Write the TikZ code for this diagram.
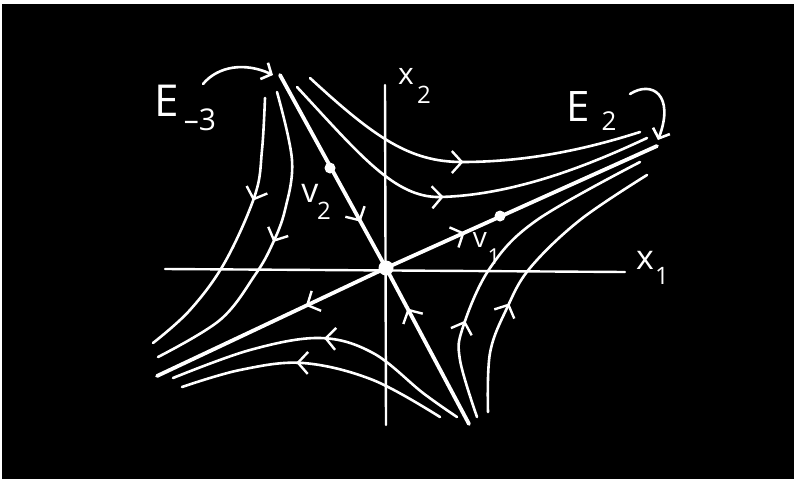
\documentclass[tikz,border=0pt]{standalone}
\usepackage{fontspec}
\setmainfont{Open Sans}
\usetikzlibrary{arrows.meta,decorations.markings}
\begin{document}
\begin{tikzpicture}[x=1pt,y=-1pt,
  flow/.style={white, line width=2.6pt, line cap=round, line join=round},
  eig/.style={white, line width=3.8pt, line cap=round},
  axisline/.style={white, line width=2.4pt, line cap=round},
  mk/.style={postaction={decorate}, decoration={markings, mark=at position #1 with {\arrow[white, line width=2.4pt]{Straight Barb[length=10pt,width=22pt]}}}},
  lbl/.style={white, inner sep=0pt, anchor=center},
  pt/.style={circle, fill=white, inner sep=0pt, minimum size=#1}
]
\useasboundingbox (0,0) rectangle (796,480);
\fill[white] (0,0) rectangle (796,480);
\fill[black] (2,4) rectangle (794,479);

% axes
\coordinate (xL) at (165,269);
\coordinate (xR) at (625,272);
\coordinate (yT) at (385,85);
\coordinate (yB) at (386,425);
\draw[axisline] (xL) -- (xR);
\draw[axisline] (yT) -- (yB);

% origin and eigen points
\node[pt=15pt] (O) at (386,268) {};
\node[pt=11pt] (P2) at (330,168) {};
\node[pt=11pt] (P1) at (500,216) {};
\coordinate (v2T) at (280,75);
\coordinate (v2B) at (469,424);
\coordinate (v1R) at (657,146);
\coordinate (v1L) at (157,376);

% eigen lines
\draw[eig, mk=0.76] (v2T) -- (O.center);
\draw[eig, mk=0.74] (v2B) -- (O.center);
\draw[eig, mk=0.29] (O.center) -- (v1R);
\draw[eig, mk=0.35] (O.center) -- (v1L);

% trajectories upper right
\draw[flow, mk=0.50] (310,78) .. controls (375,138) and (410,162) .. (462,162) .. controls (530,162) and (590,148) .. (640,132);
\draw[flow, mk=0.47] (297,87) .. controls (360,155) and (395,198) .. (440,197) .. controls (520,195) and (600,160) .. (647,138);
% lower right
\draw[flow, mk=0.29] plot[smooth, tension=0.6] coordinates {(477,417) (460,360) (463,327) (490,268) (537,220) (640,162)};
\draw[flow, mk=0.37] plot[smooth, tension=0.6] coordinates {(488,412) (490,353) (507,308) (530,268) (580,220) (647,175)};
% upper left
\draw[flow, mk=0.37] plot[smooth, tension=0.6] coordinates {(265,98) (262,150) (255,195) (225,262) (190,310) (153,343)};
\draw[flow, mk=0.48] plot[smooth, tension=0.6] coordinates {(277,92) (292,160) (285,210) (272,245) (255,275) (220,320) (158,357)};
% bottom
\draw[flow, mk=0.50] plot[smooth, tension=0.6] coordinates {(457,417) (423,393) (373,353) (320,338) (250,350) (173,378)};
\draw[flow, mk=0.57] plot[smooth, tension=0.6] coordinates {(440,417) (373,380) (303,363) (240,370) (182,387)};

% labels
\node[lbl, font=\fontsize{30}{30}\selectfont] (x2a) at (406,76) {x};
\node[lbl, font=\fontsize{24}{24}\selectfont] (x2b) at (424,95) {2};
\node[lbl, font=\fontsize{34}{34}\selectfont] (x1a) at (645,260) {x};
\node[lbl, font=\fontsize{24}{24}\selectfont] (x1b) at (662,276) {1};
\node[lbl, font=\fontsize{44}{44}\selectfont] (Ea) at (167,101) {E};
\node[lbl, font=\fontsize{30}{30}\selectfont] (Eb) at (200,120) {–3};
\node[lbl, font=\fontsize{42}{42}\selectfont] (Fa) at (578,107) {E};
\node[lbl, font=\fontsize{26}{26}\selectfont] (Fb) at (609,121) {2};
\node[lbl, font=\fontsize{34}{34}\selectfont] (v2a) at (310,193) {v};
\node[lbl, font=\fontsize{24}{24}\selectfont] (v2b) at (324,211) {2};
\node[lbl, font=\fontsize{28}{28}\selectfont] (v1a) at (480,240) {v};
\node[lbl, font=\fontsize{22}{22}\selectfont] (v1b) at (494,257) {1};

% pointer arrows
\coordinate (e3s) at (203,84);
\coordinate (e3t) at (273,75);
\draw[flow, -{Straight Barb[length=8pt,width=18pt]}] (e3s) .. controls (218,66) and (245,62) .. (e3t);
\coordinate (e2s) at (630,94);
\coordinate (e2t) at (658,140);
\draw[flow, -{Straight Barb[length=8pt,width=18pt]}] (e2s) .. controls (652,80) and (675,95) .. (e2t);
\end{tikzpicture}
\end{document}
